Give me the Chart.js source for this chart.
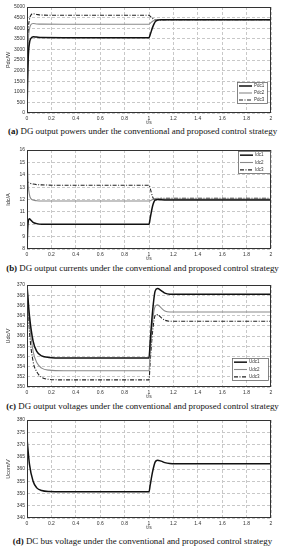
<!DOCTYPE html>
<html>
<head>
<meta charset="utf-8">
<script src="https://cdn.jsdelivr.net/npm/chart.js@4.4.0/dist/chart.umd.min.js"></script>
<style>
body{margin:0;background:#fff;width:285px;height:550px;position:relative;overflow:hidden}
canvas{position:absolute;left:0}
.cap{position:absolute;left:0;width:285px;text-align:center;font-family:"Liberation Serif",serif;font-size:8.9px;color:#111;white-space:nowrap;line-height:10px}
</style>
</head>
<body>
<canvas id="ca" width="285" height="126" style="top:0px"></canvas>
<div class="cap" style="top:126px"><b>(a)</b> DG output powers under the conventional and proposed control strategy</div>
<canvas id="cb" width="285" height="125" style="top:137px"></canvas>
<div class="cap" style="top:263px"><b>(b)</b> DG output currents under the conventional and proposed control strategy</div>
<canvas id="cc" width="285" height="125" style="top:275px"></canvas>
<div class="cap" style="top:401px"><b>(c)</b> DG output voltages under the conventional and proposed control strategy</div>
<canvas id="cd" width="285" height="121" style="top:410px"></canvas>
<div class="cap" style="top:536px"><b>(d)</b> DC bus voltage under the conventional and proposed control strategy</div>
<script>
// time axis (s)
const tAB = [0, 0.005, 0.01, 0.02, 0.03, 0.05, 0.08, 0.12, 0.3, 1.0, 1.01, 1.03, 1.05, 1.07, 1.1, 1.15, 1.4, 2];
const tCD = [0, 0.02, 0.05, 0.08, 0.12, 0.18, 0.3, 1.0, 1.01, 1.03, 1.05, 1.07, 1.1, 1.13, 1.17, 1.22, 1.4, 2];

// (a) output powers, W
const pdc1 = [0, 1500, 2600, 3300, 3500, 3600, 3580, 3560, 3555, 3555, 3700, 4050, 4300, 4380, 4400, 4400, 4400, 4400];
const pdc2 = [0, 2000, 3300, 3950, 4150, 4220, 4200, 4190, 4185, 4185, 4230, 4330, 4390, 4410, 4405, 4400, 4400, 4400];
const pdc3 = [0, 2500, 3800, 4400, 4600, 4680, 4650, 4620, 4610, 4610, 4560, 4460, 4400, 4380, 4390, 4400, 4400, 4400];

// (b) output currents, A
const idc1 = [8, 9.5, 10.2, 10.45, 10.35, 10.15, 10.05, 10.0, 10.0, 10.0, 10.5, 11.5, 11.95, 12.0, 11.97, 11.95, 11.95, 11.95];
const idc2 = [16, 14.5, 13.2, 12.4, 12.1, 11.95, 11.9, 11.88, 11.88, 11.88, 11.9, 12.0, 12.08, 12.1, 12.05, 12.03, 12.03, 12.03];
const idc3 = [13.2, 13.4, 13.4, 13.35, 13.3, 13.25, 13.2, 13.18, 13.15, 13.15, 12.9, 12.2, 11.95, 12.05, 12.1, 12.1, 12.1, 12.1];

// (c) output voltages, V
const udc1 = [370, 364, 359, 357, 356.1, 355.8, 355.7, 355.7, 359, 365, 368.8, 369.3, 368.9, 368.4, 368.2, 368.2, 368.2, 368.2];
const udc2 = [370, 362.5, 357, 354.8, 353.7, 353.3, 353.2, 353.2, 357, 363, 365.8, 366.1, 365.5, 364.9, 364.7, 364.7, 364.7, 364.7];
const udc3 = [370, 361, 355, 353, 351.9, 351.5, 351.4, 351.4, 355, 361, 364.0, 364.2, 363.6, 363.1, 362.9, 362.9, 362.9, 362.9];

// (d) DC bus voltage, V
const ucom = [372.5, 362, 355, 352.3, 351.2, 350.8, 350.7, 350.7, 353.5, 359, 362.8, 363.6, 363.2, 362.6, 362.2, 362.1, 362.1, 362.1];

const styles = [
  {borderColor: '#111', borderWidth: 1.5, borderDash: []},
  {borderColor: '#8a8a8a', borderWidth: 1.1, borderDash: []},
  {borderColor: '#222', borderWidth: 1.1, borderDash: [4, 1.5, 1, 1.5]}
];

const frame = {
  id: 'frame',
  afterDraw(chart, args, opts) {
    const ctx = chart.ctx, a = chart.chartArea;
    ctx.save();
    ctx.strokeStyle = '#333';
    ctx.lineWidth = 1;
    ctx.setLineDash([]);
    ctx.strokeRect(a.left + 0.5, a.top + 0.5, a.right - a.left - 1, a.bottom - a.top - 1);
    const L = opts.box;
    if (L) {
      const x = a.right - L.right - L.w;
      const y = L.top != null ? a.top + L.top : a.bottom - L.bottom - L.h;
      ctx.fillStyle = '#fff';
      ctx.fillRect(x, y, L.w, L.h);
      ctx.strokeStyle = '#666';
      ctx.lineWidth = 0.8;
      ctx.strokeRect(x + 0.5, y + 0.5, L.w, L.h);
      const rowH = L.h / chart.data.datasets.length;
      chart.data.datasets.forEach((ds, i) => {
        const cy = y + rowH * (i + 0.5) + 0.5;
        ctx.beginPath();
        ctx.setLineDash(ds.borderDash || []);
        ctx.strokeStyle = ds.borderColor;
        ctx.lineWidth = ds.borderWidth;
        ctx.moveTo(x + 2, cy);
        ctx.lineTo(x + 15, cy);
        ctx.stroke();
        ctx.setLineDash([]);
        ctx.fillStyle = '#333';
        ctx.font = '4.5px "Liberation Sans"';
        ctx.textBaseline = 'middle';
        ctx.fillText(ds.label, x + 17, cy);
      });
    }
    ctx.restore();
  }
};

const tickFont = {family: 'Liberation Sans', size: 5};

function makeChart(id, t, series, names, yMin, yMax, step, yTitle, padTop, box) {
  return new Chart(document.getElementById(id), {
    type: 'line',
    data: {
      datasets: series.map((s, i) => Object.assign({
        label: names[i],
        data: t.map((x, k) => ({x: x, y: s[k]})),
        pointRadius: 0,
        cubicInterpolationMode: 'monotone',
        fill: false
      }, styles[i]))
    },
    options: {
      responsive: false,
      animation: false,
      devicePixelRatio: 1,
      layout: {padding: {top: padTop, right: 14, bottom: 0, left: 0}},
      plugins: {legend: {display: false}, tooltip: {enabled: false}, frame: {box: box}},
      scales: {
        x: {
          type: 'linear', min: 0, max: 2,
          afterFit: s => { s.height = 13; },
          grid: {color: '#c8c8c8', drawTicks: false},
          border: {display: false, dash: [3, 2]},
          ticks: {stepSize: 0.2, font: tickFont, color: '#333', padding: 3, maxRotation: 0,
                  callback: v => String(+v.toFixed(1))},
          title: {display: true, text: 't/s', font: tickFont, color: '#333', padding: 0}
        },
        y: {
          min: yMin, max: yMax,
          afterFit: s => { s.width = 27; },
          grid: {color: '#c8c8c8', drawTicks: false},
          border: {display: false, dash: [3, 2]},
          ticks: {stepSize: step, font: tickFont, color: '#333', padding: 2,
                  callback: v => String(+v.toFixed(1))},
          title: {display: true, text: yTitle, font: {family: 'Liberation Sans', size: 5.5}, color: '#333',
                  padding: {top: 5, bottom: 0}}
        }
      }
    },
    plugins: [frame]
  });
}

makeChart('ca', tAB, [pdc1, pdc2, pdc3], ['Pdc1', 'Pdc2', 'Pdc3'], 0, 5000, 500, 'Pdc/W', 7,
  {w: 30, h: 21, right: 4, bottom: 10});
makeChart('cb', tAB, [idc1, idc2, idc3], ['Idc1', 'Idc2', 'Idc3'], 8, 16, 1, 'Idc/A', 13,
  {w: 32, h: 22, right: 1, top: 1});
makeChart('cc', tCD, [udc1, udc2, udc3], ['Udc1', 'Udc2', 'Udc3'], 350, 370, 2, 'Udc/V', 10,
  {w: 36, h: 22, right: 3, bottom: 7});
makeChart('cd', tCD, [ucom], ['Ucom'], 340, 380, 5, 'Ucom/V', 10, null);
</script>
</body>
</html>
